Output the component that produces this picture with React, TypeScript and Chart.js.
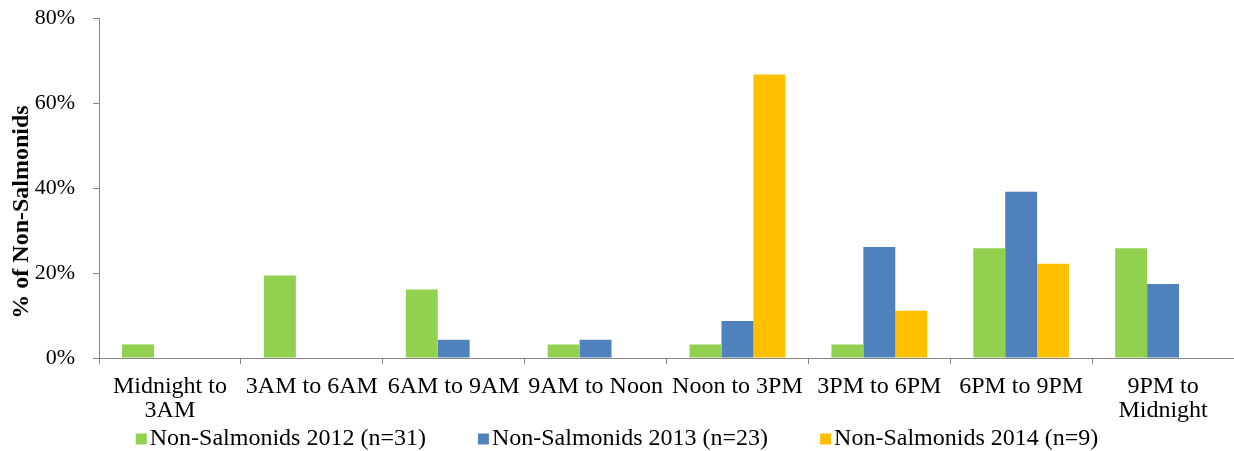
import React, { useEffect, useRef } from "react";
import { Chart, registerables } from "chart.js";

Chart.register(...registerables);

const categories: (string | string[])[] = [
  ["Midnight to", "3AM"],
  "3AM to 6AM",
  "6AM to 9AM",
  "9AM to Noon",
  "Noon to 3PM",
  "3PM to 6PM",
  "6PM to 9PM",
  ["9PM to", "Midnight"],
];

const series2012 = [3.2, 19.4, 16.1, 3.2, 3.2, 3.2, 25.8, 25.8];
const series2013 = [0, 0, 4.3, 4.3, 8.7, 26.1, 39.1, 17.4];
const series2014 = [0, 0, 0, 0, 66.7, 11.1, 22.2, 0];

const seriesLabels = [
  "Non-Salmonids 2012 (n=31)",
  "Non-Salmonids 2013 (n=23)",
  "Non-Salmonids 2014 (n=9)",
];
const seriesColors = ["#92D050", "#4F81BD", "#FFC000"];

const yTicks = [0, 20, 40, 60, 80];
const yTitle = "% of Non-Salmonids";

const FONT = "'Times New Roman', 'Liberation Serif', serif";
const AXIS_GRAY = "#868686";

const bottomLegend = {
  id: "bottomLegend",
  afterDraw(chart: any) {
    const ctx = chart.ctx;
    ctx.save();
    ctx.font = `24px ${FONT}`;
    ctx.textBaseline = "middle";
    ctx.textAlign = "left";
    const box = 11;
    const boxGap = 3;
    const itemGap = 52;
    const items = chart.data.datasets.map((d: any) => ({
      label: d.label,
      color: d.backgroundColor,
      w: box + boxGap + ctx.measureText(d.label).width,
    }));
    const total =
      items.reduce((s: number, it: any) => s + it.w, 0) +
      itemGap * (items.length - 1);
    let x = chart.width / 2 - total / 2;
    const cy = 439;
    items.forEach((it: any) => {
      ctx.fillStyle = it.color;
      ctx.fillRect(x, cy - box / 2, box, box);
      ctx.fillStyle = "#000";
      ctx.fillText(it.label, x + box + boxGap, cy);
      x += it.w + itemGap;
    });
    ctx.restore();
  },
};

const yTitlePlugin = {
  id: "yTitlePlugin",
  afterDraw(chart: any) {
    const ctx = chart.ctx;
    ctx.save();
    ctx.font = `bold 24px ${FONT}`;
    ctx.fillStyle = "#000";
    ctx.textAlign = "center";
    ctx.textBaseline = "middle";
    ctx.translate(22, (chart.chartArea.top + chart.chartArea.bottom) / 2 + 24);
    ctx.rotate(-Math.PI / 2);
    ctx.fillText(yTitle, 0, 0);
    ctx.restore();
  },
};

export default function App() {
  const canvasRef = useRef<HTMLCanvasElement | null>(null);

  useEffect(() => {
    if (!canvasRef.current) return;
    const chart = new Chart(canvasRef.current, {
      type: "bar",
      data: {
        labels: categories,
        datasets: [series2012, series2013, series2014].map((values, i) => ({
          label: seriesLabels[i],
          data: values,
          backgroundColor: seriesColors[i],
          borderWidth: 0,
          categoryPercentage: 0.675,
          barPercentage: 1.0,
        })),
      },
      options: {
        responsive: false,
        animation: false,
        devicePixelRatio: 1,
        layout: { padding: { top: 18, right: 0, bottom: 0, left: 0 } },
        plugins: {
          legend: { display: false },
          tooltip: { enabled: false },
        },
        scales: {
          x: {
            grid: {
              offset: true,
              drawOnChartArea: false,
              drawTicks: true,
              tickLength: 6,
              color: AXIS_GRAY,
            },
            border: { color: AXIS_GRAY, width: 1 },
            ticks: {
              color: "#000",
              padding: 11,
              maxRotation: 0,
              autoSkip: false,
              font: { family: FONT, size: 24, lineHeight: 1.0 },
            },
            afterFit: (s: any) => {
              s.height = 93;
            },
          },
          y: {
            min: 0,
            max: 80,
            afterBuildTicks: (s: any) => {
              s.ticks = yTicks.map((v) => ({ value: v }));
            },
            grid: {
              drawOnChartArea: false,
              drawTicks: true,
              tickLength: 6,
              color: AXIS_GRAY,
            },
            border: { color: AXIS_GRAY, width: 1 },
            ticks: {
              color: "#000",
              padding: 18,
              font: { family: FONT, size: 22 },
              callback: (v: any) => `${v}%`,
            },
            afterFit: (s: any) => {
              s.width = 99;
              s.paddingTop = 0;
              s.paddingBottom = 0;
            },
          },
        },
      },
      plugins: [bottomLegend, yTitlePlugin],
    });
    return () => chart.destroy();
  }, []);

  return (
    <div
      style={{
        position: "fixed",
        left: 0,
        top: 0,
        width: 1234,
        height: 451,
        background: "#fff",
      }}
    >
      <canvas ref={canvasRef} width={1234} height={451} />
    </div>
  );
}
